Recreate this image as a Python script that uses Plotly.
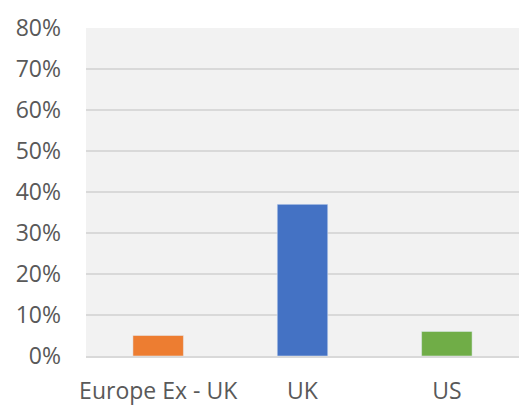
import plotly.graph_objects as go

categories = ["Europe Ex - UK", "UK", "US"]
values = [0.05, 0.37, 0.06]
colors = ["#ED7D31", "#4472C4", "#70AD47"]
tick_vals = [0, 0.1, 0.2, 0.3, 0.4, 0.5, 0.6, 0.7, 0.8]
tick_text = ["0%", "10%", "20%", "30%", "40%", "50%", "60%", "70%", "80%"]

fig = go.Figure(go.Bar(x=categories, y=values, marker_color=colors, width=0.35))
fig.update_layout(
    width=525, height=412,
    margin=dict(l=86, r=6, t=28, b=56),
    paper_bgcolor="white", plot_bgcolor="#F2F2F2",
    font=dict(family="Open Sans", size=23, color="#595959"),
    showlegend=False,
)
fig.update_yaxes(range=[0, 0.8], tickvals=tick_vals, ticktext=tick_text,
                 gridcolor="#D9D9D9", gridwidth=1.5, zeroline=False, ticks="",
                 automargin=False, ticklabelstandoff=24)
fig.update_xaxes(showgrid=False, showline=True, linecolor="#D9D9D9", linewidth=1.5, ticks="",
                 automargin=False, ticklabelstandoff=14)
fig.write_html("out.html", config={"displayModeBar": False},
               post_script="document.body.style.margin='0';")
